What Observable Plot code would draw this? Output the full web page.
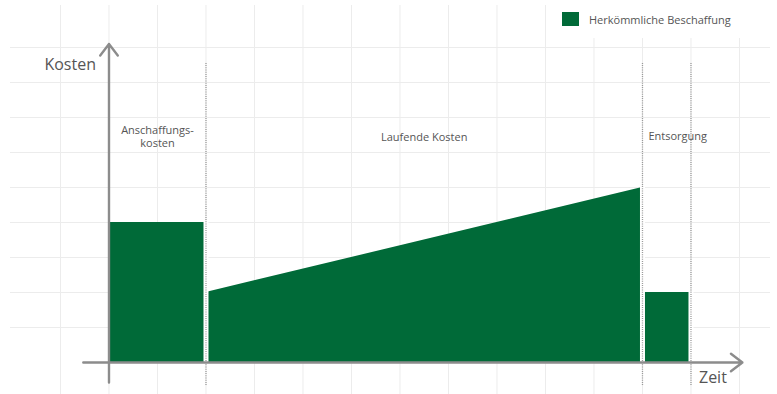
<!DOCTYPE html>
<html>
<head>
<meta charset="utf-8">
<script src="https://cdn.jsdelivr.net/npm/d3@7"></script>
<script src="https://cdn.jsdelivr.net/npm/@observablehq/plot@0.6"></script>
<style>
  body { margin: 0; background: #fff; font-family: "Open Sans", sans-serif; }
  #wrap { position: relative; width: 777px; height: 394px; overflow: hidden; }
  #legend {
    position: absolute; left: 553px; top: 0; width: 224px; height: 38px;
    background: #fff; display: flex; align-items: center; gap: 10px;
    padding-left: 9px; box-sizing: border-box;
    font-size: 11px; color: #555;
  }
  #legend .sw { width: 17px; height: 14px; background: #006a38; }
</style>
</head>
<body>
<div id="wrap">
  <div id="chart"></div>
  <div id="legend"><span class="sw"></span><span>Herkömmliche Beschaffung</span></div>
</div>
<script>
// Lifecycle phases of a conventional purchase (schematic, time in periods, cost in units)
const phases     = ["Anschaffungskosten", "Laufende Kosten", "Entsorgung"];
const phaseLabel = ["Anschaffungs-\nkosten", "Laufende Kosten", "Entsorgung"];
const phaseStart = [0, 2, 11];
const phaseEnd   = [2, 11, 12];
const startCost  = [4, 2, 2];
const endCost    = [4, 5, 2];

// Background grid positions
const gridX = [-1, 0, 1, 2, 3, 4, 5, 6, 7, 8, 9, 10, 11, 12, 13];
const gridY = [1, 2, 3, 4, 5, 6, 7, 8, 9];

// Axis extents (arrow ends) and phase divider extent
const xAxisFrom = -0.53, xAxisTo = 13.06;
const yAxisFrom = -0.57, yAxisTo = 9.1;
const dividerFrom = -0.66, dividerTo = 8.54;
const labelLevel = 6.45;

const green = "#006a38";

// One polygon per phase: start and end point of its cost curve
const shape = phases.flatMap((p, i) => [
  {phase: p, t: phaseStart[i], cost: startCost[i]},
  {phase: p, t: phaseEnd[i], cost: endCost[i]}
]);

// Divider positions between phases and after the last phase
const dividers = [...new Set(phaseStart.slice(1).concat(phaseEnd))].filter(d => d > 0);
const dividerGap = dividers.map(d => {
  const h = phases.flatMap((p, i) => [
    phaseStart[i] === d ? startCost[i] : 0,
    phaseEnd[i] === d ? endCost[i] : 0
  ]);
  return {t: d, top: Math.max(...h)};
});

const labels = phases.map((p, i) => ({
  text: phaseLabel[i],
  mid: (phaseStart[i] + phaseEnd[i]) / 2,
  start: phaseStart[i],
  last: i === phases.length - 1
}));

const chart = Plot.plot({
  width: 777,
  height: 394,
  margin: 0,
  x: {domain: [-2.237, 13.784], axis: null},
  y: {domain: [-0.914, 10.343], axis: null},
  style: {fontFamily: "'Open Sans', sans-serif", background: "#fff"},
  marks: [
    Plot.ruleX(gridX, {y1: -0.914, y2: 10.2, stroke: "#ececec", strokeWidth: 1}),
    Plot.ruleY(gridY, {x1: -2.03, x2: 13.64, stroke: "#ececec", strokeWidth: 1}),
    // unstacked areas: each phase filled from zero up to its cost line
    Plot.area(shape, {x1: "t", y1: 0, y2: "cost", z: "phase", fill: green, curve: "linear"}),
    Plot.ruleX(dividerGap, {x: "t", y1: 0, y2: "top", stroke: "#fff", strokeWidth: 5}),
    Plot.ruleX(dividers, {y1: dividerFrom, y2: dividerTo, stroke: "#9a9a9a", strokeWidth: 1.3, strokeDasharray: "1,1.2"}),
    Plot.arrow([{x1: 0, y1: yAxisFrom, x2: 0, y2: yAxisTo}], {
      x1: "x1", y1: "y1", x2: "x2", y2: "y2",
      stroke: "#8c8c8c", strokeWidth: 2.4, headLength: 9, headAngle: 75
    }),
    Plot.arrow([{x1: xAxisFrom, y1: 0, x2: xAxisTo, y2: 0}], {
      x1: "x1", y1: "y1", x2: "x2", y2: "y2",
      stroke: "#8c8c8c", strokeWidth: 2.4, headLength: 9, headAngle: 75
    }),
    Plot.text(labels.filter(d => !d.last), {
      x: "mid", y: labelLevel, text: "text", fontSize: 11, fill: "#555",
      lineHeight: 1.18, lineAnchor: "middle"
    }),
    Plot.text(labels.filter(d => d.last), {
      x: "start", y: labelLevel, text: "text", fontSize: 11, fill: "#555",
      textAnchor: "start", dx: 6, lineAnchor: "middle"
    }),
    Plot.text(["Kosten"], {x: 0, y: 8.49, text: d => d, textAnchor: "end", dx: -13, fontSize: 16, fill: "#555", lineAnchor: "middle"}),
    Plot.text(["Zeit"], {x: 12, y: -0.43, text: d => d, textAnchor: "start", dx: 8, fontSize: 16, fill: "#555", lineAnchor: "middle"})
  ]
});

document.getElementById("chart").append(chart);
</script>
</body>
</html>
